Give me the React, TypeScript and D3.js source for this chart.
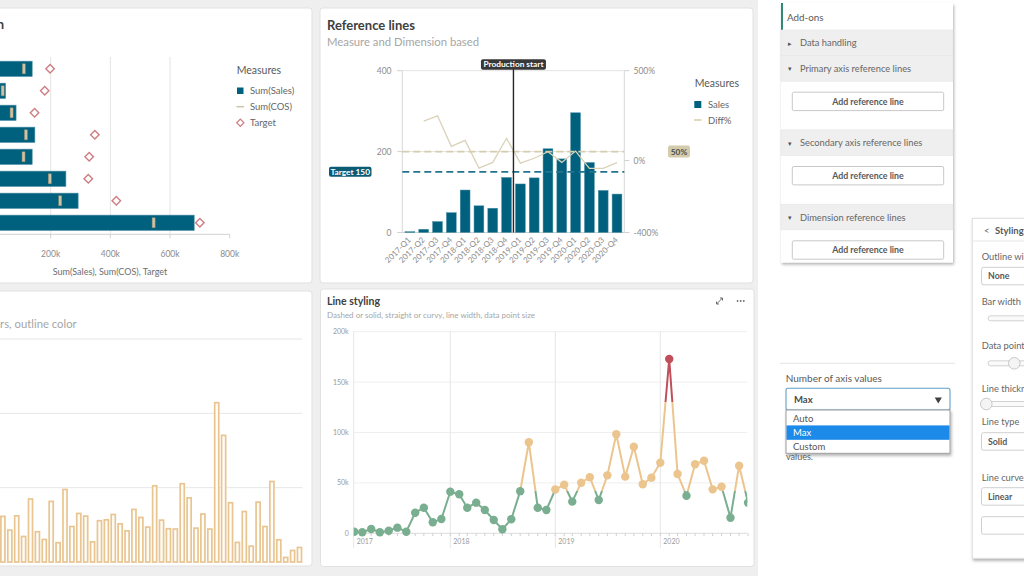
import React from "react";
import * as d3 from "d3";

const FONT = "Lato, 'Open Sans', sans-serif";

// Combo chart: sales, cost of sales and target per group (thousands)
const comboGroups = ["North", "South", "East", "West", "Central", "Nordic", "Iberia", "Benelux"];
const comboSales = [138, 49, 84, 147, 138, 251, 292, 681];
const comboCos = [110, 39, 69, 117, 109, 197, 232, 545];
const comboTarget = [198, 180, 146, 348, 329, 326, 420, 700];
const comboTicks = [0, 200, 400, 600, 800];

// Reference lines chart: quarterly sales and change in percent
const quarters = [
  "2017-Q1", "2017-Q2", "2017-Q3", "2017-Q4",
  "2018-Q1", "2018-Q2", "2018-Q3", "2018-Q4",
  "2019-Q1", "2019-Q2", "2019-Q3", "2019-Q4",
  "2020-Q1", "2020-Q2", "2020-Q3", "2020-Q4",
];
const quarterSales = [2, 8, 27, 49, 105, 66, 60, 136, 120, 135, 207, 182, 296, 173, 104, 95];
const diffPct = [null, 220, 249, 79, 112, -42, -10, 124, -14, 13, 49, -10, 53, -43, -43, -11];
const salesTicks = [0, 200, 400];
const pctTicks = [-400, 0, 500];
const salesTarget = 150;
const diffReference = 50;
const productionStart = "2019-Q1";

// Hollow bars
const outlineBarValues = [
  31.2, 22.0, 31.6, 17.7, 42.9, 20.9, 15.7, 41.3, 13.5, 49.3,
  24.4, 33.2, 31.4, 14.1, 28.3, 28.9, 32.5, 26.2, 21.5, 35.9,
  30.5, 24.0, 51.8, 28.7, 22.9, 22.7, 53.2, 43.7, 23.3, 32.8,
  22.7, 107.7, 85.7, 40.4, 13.7, 34.5, 11.2, 40.8, 24.4, 54.7,
  15.5, 3.6, 8.3, 10.3,
];
const outlineTicks = [50, 100, 150];

// Line styling: monthly sales in thousands, Feb 2017 - Nov 2020
const monthlySales = [
  1.6, 1, 4.3, 1, 2.6, 5.6, 1.6, 20.4, 25.4, 10.9, 14.2,
  41.3, 38.7, 25.4, 30.4, 23.1, 13.2, 4, 13.9, 41.8, 90.3, 25.4, 23.1,
  43.4, 48.2, 31.4, 50.2, 55.6, 33, 57.5, 98.2, 56.2, 85.9, 48.6, 55.2,
  70, 172.9, 58.8, 37.3, 68.5, 72, 43.6, 46.2, 15.5, 67.1, 30.4,
];
const months = d3.timeMonth.range(new Date(2017, 1, 1), new Date(2020, 11, 1));
const lineTicks = [0, 50, 100, 150, 200];
const years = [2017, 2018, 2019, 2020];
const lowLimit = 42;
const highLimit = 130;

const addOnSections = [
  { label: "Data handling", open: false },
  { label: "Primary axis reference lines", open: true },
  { label: "Secondary axis reference lines", open: true },
  { label: "Dimension reference lines", open: true },
];
const axisValueOptions = ["Auto", "Max", "Custom"];
const axisValueSelected = "Max";

const TEAL = "#00617f";
const GREEN = "#7aae91";
const ORANGE = "#ecc48d";
const RED = "#bf4f5a";

function Panel({ x, y, w, h }) {
  return <rect x={x} y={y} width={w} height={h} rx={3} fill="#fff" stroke="#e1e1e1" />;
}

function ComboPanel() {
  const x = d3.scaleLinear().domain([0, 800]).range([-9, 229.7]);
  const y = d3.scaleBand().domain(comboGroups).range([57, 234.6]).paddingInner(0.305).paddingOuter(0.19);
  const bw = y.bandwidth();
  const diamond = d3.symbol().type(d3.symbolSquare).size(36)();
  const base = 234.3;
  return (
    <g>
      <Panel x={-10} y={8} w={322} h={275} />
      <text x={4} y={29} textAnchor="end" fontSize={13} fontWeight={700} fill="#404040">
        Combo chart, sales and target per region
      </text>
      {comboTicks.filter((t) => t > 0 && t < 800).map((t) => (
        <line key={t} x1={x(t)} x2={x(t)} y1={57} y2={base} stroke="#e4e4e4" />
      ))}
      <line x1={-10} x2={x(800)} y1={base} y2={base} stroke="#d2d2d2" />
      {comboTicks.map((t) => (
        <g key={t}>
          <line x1={x(t)} x2={x(t)} y1={base} y2={base + 4} stroke="#d2d2d2" />
          <text x={x(t)} y={256.5} textAnchor="middle" fontSize={8.5} fill="#8c8c8c">
            {t === 0 ? "0" : `${t}k`}
          </text>
        </g>
      ))}
      <text x={110} y={275} textAnchor="middle" fontSize={9} fill="#6e6e6e">
        Sum(Sales), Sum(COS), Target
      </text>
      {comboGroups.map((g, i) => {
        const top = y(g);
        const cy = top + bw / 2;
        return (
          <g key={g}>
            <rect x={x(0)} y={top} width={x(comboSales[i]) - x(0)} height={bw} fill={TEAL} stroke="#4b8ea4" strokeWidth={0.6} />
            <rect x={x(comboCos[i]) - 1.5} y={cy - 5} width={3} height={10} fill="#cdc4a7" stroke="#8e866c" strokeWidth={0.5} />
            <path d={diamond} transform={`translate(${x(comboTarget[i])},${cy}) rotate(45)`} fill="#fff" stroke="#cf7e83" strokeWidth={1.4} />
          </g>
        );
      })}
      <text x={236.7} y={74} fontSize={10.5} fill="#595959">Measures</text>
      <rect x={237} y={87.5} width={6.5} height={6.5} fill={TEAL} />
      <text x={250} y={94} fontSize={9.5} fill="#666">Sum(Sales)</text>
      <line x1={236.5} x2={244} y1={106.7} y2={106.7} stroke="#cdc4a7" strokeWidth={1.5} />
      <text x={250} y={110} fontSize={9.5} fill="#666">Sum(COS)</text>
      <path d={d3.symbol().type(d3.symbolSquare).size(26)()} transform="translate(240.3,122.7) rotate(45)" fill="#fff" stroke="#cf7e83" strokeWidth={1.2} />
      <text x={250} y={126} fontSize={9.5} fill="#666">Target</text>
    </g>
  );
}

function RefLinesPanel() {
  const x = d3.scaleBand().domain(quarters).range([402.3, 624.6]).paddingInner(0.29).paddingOuter(0.195);
  const y = d3.scaleLinear().domain([0, 400]).range([232.5, 70.7]);
  const y2 = d3.scaleLinear().domain([-400, 500]).range([232.5, 70.7]);
  const bw = x.bandwidth();
  const gap = x.step() - bw;
  const left = 402.3;
  const right = 624.3;
  const prodX = x(productionStart) - gap / 2;
  const diffLine = d3
    .line()
    .defined((d) => d[1] != null)
    .x((d) => x(d[0]) + bw / 2)
    .y((d) => y2(d[1]));
  const diffPts = quarters.map((q, i) => [q, diffPct[i]]);
  return (
    <g>
      <Panel x={320} y={8} w={433} h={275} />
      <text x={327} y={29.5} fontSize={13} fontWeight={700} fill="#404040">Reference lines</text>
      <text x={327} y={46} fontSize={11.3} fill="#a6a6a6">Measure and Dimension based</text>

      <line x1={left} x2={right} y1={y(400)} y2={y(400)} stroke="#e4e4e4" />
      <line x1={left} x2={right} y1={y(200)} y2={y(200)} stroke="#e4e4e4" />
      <line x1={left} x2={left} y1={y(400)} y2={y(0)} stroke="#d8d8d8" />
      <line x1={right} x2={right} y1={y(400)} y2={y(0)} stroke="#d8d8d8" />
      <line x1={left} x2={right} y1={y(0)} y2={y(0)} stroke="#d0d0d0" />
      {salesTicks.map((t) => (
        <g key={t}>
          <line x1={left - 5} x2={left} y1={y(t)} y2={y(t)} stroke="#d0d0d0" />
          <text x={391.5} y={y(t) + 3} textAnchor="end" fontSize={8.5} fill="#8c8c8c">{t}</text>
        </g>
      ))}
      {pctTicks.map((t) => (
        <g key={t}>
          <line x1={right} x2={right + 5} y1={y2(t)} y2={y2(t)} stroke="#d0d0d0" />
          <text x={633.5} y={y2(t) + 3} fontSize={8.5} fill="#8c8c8c">{`${t}%`}</text>
        </g>
      ))}

      {quarters.map((q, i) => (
        <rect key={q} x={x(q)} y={y(quarterSales[i])} width={bw} height={y(0) - y(quarterSales[i])} fill={TEAL} stroke="#4b8ea4" strokeWidth={0.5} />
      ))}
      <path d={diffLine(diffPts)} fill="none" stroke="#dad2b9" strokeWidth={1.3} />

      <line x1={left} x2={right} y1={y2(diffReference)} y2={y2(diffReference)} stroke="#d5cdae" strokeWidth={1.8} strokeDasharray="7 4" />
      <line x1={left} x2={right} y1={y(salesTarget)} y2={y(salesTarget)} stroke="#23738e" strokeWidth={1.8} strokeDasharray="7 4" />
      <line x1={prodX} x2={prodX} y1={64} y2={y(0)} stroke="#262626" strokeWidth={1.4} />

      <rect x={prodX - 32.5} y={59.3} width={65} height={10.5} rx={2} fill="#383838" />
      <text x={prodX} y={67.4} textAnchor="middle" fontSize={8.3} fontWeight={700} fill="#fff">Production start</text>

      <rect x={329} y={y(salesTarget) - 5} width={42.5} height={10} rx={2} fill="#0c5b74" />
      <text x={350.2} y={y(salesTarget) + 3} textAnchor="middle" fontSize={8.3} fontWeight={700} fill="#fff">{`Target ${salesTarget}`}</text>

      <rect x={668} y={y2(diffReference) - 6} width={22} height={12} rx={2} fill="#d3cbab" />
      <text x={679} y={y2(diffReference) + 3} textAnchor="middle" fontSize={8.3} fontWeight={700} fill="#4d4d4d">{`${diffReference}%`}</text>

      {quarters.map((q) => (
        <text key={q} transform={`translate(${x(q) + bw / 2 - 0.5},${238.5}) rotate(-45)`} textAnchor="end" dy="0.35em" fontSize={8} fill="#8c8c8c">
          {q}
        </text>
      ))}

      <text x={694.7} y={87} fontSize={10.5} fill="#595959">Measures</text>
      <rect x={694.3} y={101} width={7} height={7} fill={TEAL} />
      <text x={708} y={108} fontSize={9.5} fill="#666">Sales</text>
      <line x1={694} x2={701.5} y1={120} y2={120} stroke="#d5cdae" strokeWidth={1.5} />
      <text x={708} y={123.5} fontSize={9.5} fill="#666">Diff%</text>
    </g>
  );
}

function OutlineBarsPanel() {
  const idx = outlineBarValues.map((_, i) => i);
  const x = d3.scaleBand().domain(idx).range([-0.6, 303]).paddingInner(0.18).paddingOuter(0.1);
  const y = d3.scaleLinear().domain([0, 150]).range([562, 339]);
  const bw = x.bandwidth();
  return (
    <g>
      <Panel x={-10} y={291} w={322} h={275} />
      <text x={76.7} y={328} textAnchor="end" fontSize={11.3} fill="#a6a6a6">Bar width, hollow bars, outline color</text>
      {outlineTicks.map((t) => (
        <line key={t} x1={-10} x2={302.3} y1={y(t)} y2={y(t)} stroke="#e6e6e6" />
      ))}
      {outlineBarValues.map((v, i) => (
        <rect key={i} x={x(i) + 0.8} y={y(v) + 0.8} width={bw - 1.6} height={y(0) - y(v) - 0.8} fill="#fffdf9" stroke="#e8c591" strokeWidth={1.7} />
      ))}
    </g>
  );
}

function LineStylingPanel() {
  const x = d3.scaleTime().domain([new Date(2018, 0, 1), new Date(2020, 0, 1)]).range([450.3, 660.3]);
  const y = d3.scaleLinear().domain([0, 200]).range([533.3, 331.7]);
  const left = 353.7;
  const right = 747.3;
  const pts = months.map((m, i) => [m, monthlySales[i]]);
  const line = d3.line().x((d) => x(d[0])).y((d) => y(d[1]));
  const colorOf = (v) => (v > highLimit ? RED : v > lowLimit ? ORANGE : GREEN);
  const tickMonths = d3.timeMonth.range(new Date(2017, 1, 1), new Date(2020, 10, 2));
  return (
    <g>
      <Panel x={320.5} y={289} w={433.5} h={277.5} />
      <defs>
        <clipPath id="lineClip">
          <rect x={left} y={320} width={right - left} height={230} />
        </clipPath>
        <linearGradient id="lineGrad" gradientUnits="userSpaceOnUse" x1={0} x2={0} y1={y(0)} y2={y(200)}>
          <stop offset={0} stopColor={GREEN} />
          <stop offset={lowLimit / 200} stopColor={GREEN} />
          <stop offset={lowLimit / 200} stopColor={ORANGE} />
          <stop offset={highLimit / 200} stopColor={ORANGE} />
          <stop offset={highLimit / 200} stopColor={RED} />
          <stop offset={1} stopColor={RED} />
        </linearGradient>
      </defs>
      <text x={327} y={305} fontSize={10.5} fontWeight={700} fill="#404040">Line styling</text>
      <text x={327} y={318} fontSize={8} fill="#a6a6a6">Dashed or solid, straight or curvy, line width, data point size</text>

      <g stroke="#6b6b6b" strokeWidth={1} fill="none">
        <line x1={716.5} y1={304} x2={722.5} y2={298} />
        <path d="M716.5,301.5 L716.5,304 L719,304" />
        <path d="M720,298 L722.5,298 L722.5,300.5" />
      </g>
      {[737.6, 740.7, 743.8].map((cx) => (
        <circle key={cx} cx={cx} cy={301} r={0.9} fill="#6b6b6b" />
      ))}

      {lineTicks.map((t) => (
        <g key={t}>
          <line x1={left} x2={right} y1={y(t)} y2={y(t)} stroke={t === 0 ? "#dcdcdc" : "#efefef"} />
          <text x={348.7} y={y(t) + 2.5} textAnchor="end" fontSize={7} fill="#9a9a9a">{t === 0 ? "0" : `${t}k`}</text>
        </g>
      ))}
      <line x1={left} x2={left} y1={331} y2={548} stroke="#e6e6e6" />
      {years.map((yr) => {
        const xs = x(new Date(yr, 0, 1));
        return (
          <g key={yr}>
            {xs > left && <line x1={xs} x2={xs} y1={331} y2={548} stroke="#e6e6e6" />}
            <text x={Math.max(xs, left) + 3} y={543.5} fontSize={7} fill="#9a9a9a">{yr}</text>
          </g>
        );
      })}
      {tickMonths.map((m) => (
        <line key={+m} x1={x(m)} x2={x(m)} y1={533.3} y2={536} stroke="#cfcfcf" />
      ))}

      <g clipPath="url(#lineClip)">
        <path d={line(pts)} fill="none" stroke="url(#lineGrad)" strokeWidth={2} />
        {pts.map((d, i) => (
          <circle key={i} cx={x(d[0])} cy={y(d[1])} r={4.2} fill={colorOf(d[1])} />
        ))}
      </g>
    </g>
  );
}

function AddOnsPanel() {
  let cy = 30;
  const rows = addOnSections.map((s) => {
    const top = cy;
    cy += 25.6;
    const block = s.open ? cy : null;
    if (s.open) cy += 48.7;
    return { ...s, top, block };
  });
  return (
    <g>
      <rect x={781} y={3} width={172} height={259.5} fill="#fff" filter="url(#shadow)" />
      <rect x={781} y={3} width={2} height={27} fill="#2f8a74" />
      <text x={787} y={20.5} fontSize={9.8} fill="#595959">Add-ons</text>
      {rows.map((r) => (
        <g key={r.label}>
          <rect x={781} y={r.top} width={172} height={25.6} fill="#efefef" stroke="#e4e4e4" strokeWidth={0.6} />
          <text x={788} y={r.top + 15.7} fontSize={7} fill="#555" fontFamily="'DejaVu Sans', sans-serif">
            {r.open ? "▾" : "▸"}
          </text>
          <text x={800} y={r.top + 16.3} fontSize={9.3} fill="#666">{r.label}</text>
          {r.block != null && (
            <g>
              <rect x={792.3} y={r.block + 11} width={151.4} height={18.4} rx={1.5} fill="#fff" stroke="#c8c8c8" />
              <text x={868} y={r.block + 23.3} textAnchor="middle" fontSize={8.8} fontWeight={700} fill="#595959">
                Add reference line
              </text>
            </g>
          )}
        </g>
      ))}
    </g>
  );
}

function AxisValuesControl() {
  const listTop = 410;
  const rowH = 14.4;
  return (
    <g>
      <line x1={780} x2={955} y1={363.3} y2={363.3} stroke="#e4e4e4" />
      <text x={785.7} y={382} fontSize={10} fill="#595959">Number of axis values</text>
      <text x={786} y={459.5} fontSize={9} fill="#666">values.</text>
      <rect x={786} y={388.3} width={164} height={21.7} rx={2} fill="#fff" stroke="#5e9fc6" strokeWidth={1.1} />
      <text x={794} y={402.7} fontSize={9.5} fontWeight={700} fill="#4a4a4a">{axisValueSelected}</text>
      <path d={d3.symbol().type(d3.symbolTriangle).size(22)()} transform="translate(938.3,399.5) rotate(180)" fill="#404040" />
      <rect x={786} y={listTop} width={164} height={43.3} fill="#fff" stroke="#9e9e9e" filter="url(#shadow)" />
      {axisValueOptions.map((o, i) => {
        const top = listTop + 1 + i * rowH;
        const sel = o === axisValueSelected;
        return (
          <g key={o}>
            {sel && <rect x={786.5} y={top} width={163} height={rowH} fill="#1c8ae9" />}
            <text x={793} y={top + 10.5} fontSize={9.5} fill={sel ? "#fff" : "#555"}>{o}</text>
          </g>
        );
      })}
    </g>
  );
}

function Slider({ y, knob }) {
  return (
    <g>
      <rect x={988} y={y - 2.5} width={60} height={5} rx={2.5} fill="#fafafa" stroke="#c6c6c6" strokeWidth={0.8} />
      {knob != null && <circle cx={knob} cy={y} r={5.8} fill="#f4f4f4" stroke="#bdbdbd" strokeWidth={0.8} />}
    </g>
  );
}

function Select({ y, label }) {
  return (
    <g>
      <rect x={981.5} y={y} width={60} height={17.5} rx={2} fill="#fff" stroke="#cfcfcf" />
      {label && <text x={988} y={y + 12} fontSize={8.8} fontWeight={700} fill="#595959">{label}</text>}
    </g>
  );
}

function StylingPanel() {
  return (
    <g>
      <rect x={972.3} y={218.3} width={60} height={340} fill="#fff" stroke="#dedede" filter="url(#shadow)" />
      <line x1={972.3} x2={1024} y1={241} y2={241} stroke="#e6e6e6" />
      <text x={984} y={233.5} fontSize={9.5} fill="#595959">&lt;</text>
      <text x={995} y={233.8} fontSize={9.5} fontWeight={700} fill="#595959">Styling</text>
      <text x={981.7} y={260} fontSize={9.3} fill="#666">Outline width</text>
      <Select y={267.3} label="None" />
      <text x={981.7} y={305} fontSize={9.3} fill="#666">Bar width</text>
      <Slider y={318.3} knob={null} />
      <text x={981.7} y={349.3} fontSize={9.3} fill="#666">Data point size</text>
      <Slider y={363.3} knob={1014.3} />
      <text x={981.7} y={391.7} fontSize={9.3} fill="#666">Line thickness</text>
      <Slider y={404} knob={986.3} />
      <text x={981.7} y={425.3} fontSize={9.3} fill="#666">Line type</text>
      <Select y={432.7} label="Solid" />
      <text x={981.7} y={481} fontSize={9.3} fill="#666">Line curve</text>
      <Select y={487.7} label="Linear" />
      <Select y={516.7} label={null} />
    </g>
  );
}

export default function App() {
  return (
    <svg width={1024} height={576} style={{ position: "absolute", left: 0, top: 0, display: "block" }} fontFamily={FONT}>
      <defs>
        <filter id="shadow" x="-10%" y="-10%" width="130%" height="130%">
          <feDropShadow dx="1" dy="2" stdDeviation="1.8" floodColor="#000" floodOpacity="0.3" />
        </filter>
      </defs>
      <rect width={1024} height={576} fill="#fff" />
      <rect x={0} y={0} width={758} height={576} fill="#efefef" />
      <ComboPanel />
      <RefLinesPanel />
      <OutlineBarsPanel />
      <LineStylingPanel />
      <AddOnsPanel />
      <AxisValuesControl />
      <StylingPanel />
    </svg>
  );
}
